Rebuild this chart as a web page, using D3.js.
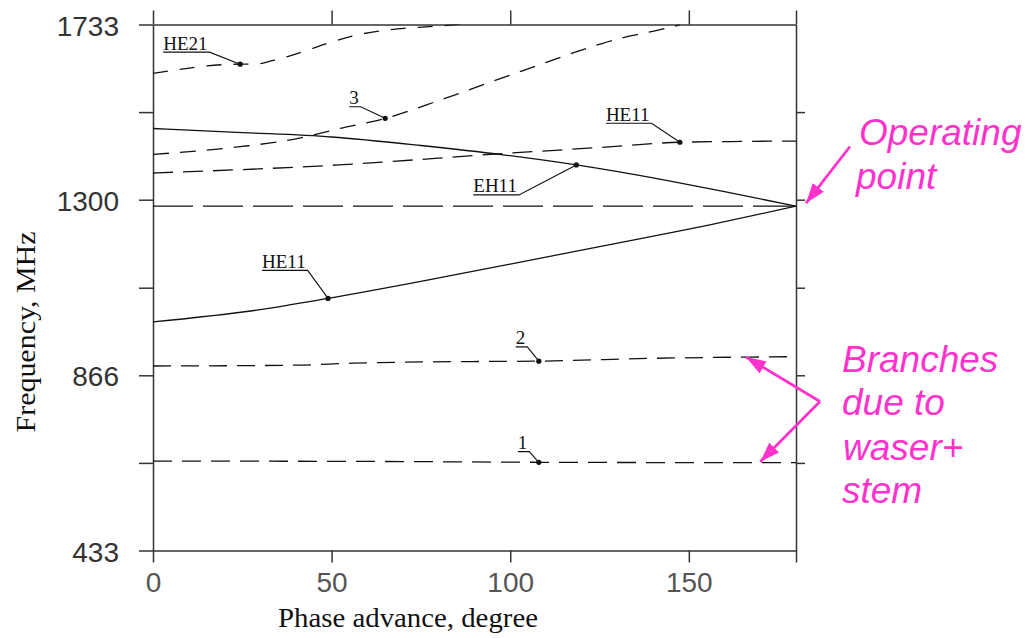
<!DOCTYPE html>
<html>
<head>
<meta charset="utf-8">
<script src="https://cdn.jsdelivr.net/npm/d3@7"></script>
<style>
	body { margin: 0; background: #fff; }
	svg { display: block; background: #fff; }
	.axis path, .axis line { stroke: #333; stroke-width: 1.5; }
	.axis text { font-family: "Liberation Sans", Arial, sans-serif; font-size: 28px; }
	.y-axis text { fill: #333; }
	.x-axis text { fill: #555; }
	.axis-title { font-family: "Liberation Serif", "Times New Roman", serif; font-size: 27px; fill: #111; }
	.mode-label { font-family: "Liberation Serif", "Times New Roman", serif; font-size: 19px; fill: #111; }
	.note { font-family: "Liberation Sans", Arial, sans-serif; font-style: italic; font-size: 37px; fill: #ff33cc; }
</style>
</head>
<body>
<svg id="chart"></svg>
<script>
// axis ticks
const yTicks = [433, 649.5, 866, 1082.5, 1300, 1516.5, 1733];
const yLabels = ["433", "", "866", "", "1300", "", "1733"];
const xTicks = [0, 50, 100, 150, 180];
const xLabels = ["0", "50", "100", "150", ""];

// dispersion branches: phase advance (deg) and frequency (MHz)
const he21Phase = [0, 24.4, 28.6, 34, 42, 49, 57, 65.5, 71, 81, 86];
const he21Freq = [1612, 1635, 1635, 1645, 1666, 1687, 1707, 1719, 1724, 1730, 1734];

const branch3Phase = [0, 24.4, 41, 52.3, 65, 80, 88, 94.3, 103.2, 110.3, 118, 125.7, 133.3, 141.4, 147.5];
const branch3Freq = [1412, 1431, 1452, 1476, 1501, 1545, 1570, 1590, 1618, 1640, 1664, 1686, 1704, 1719, 1732];

const eh11Phase = [0, 25, 50, 75, 98, 118.5, 143, 160, 180];
const eh11Freq = [1476, 1466, 1455, 1434, 1411, 1386, 1349, 1320, 1284];

const he11UpPhase = [0, 52, 98, 125, 147.5, 165, 180];
const he11UpFreq = [1366, 1386, 1414, 1429, 1442, 1444, 1445];

const opPhase = [0, 180];
const opFreq = [1284, 1284];

const he11LowPhase = [0, 29, 49, 75, 100, 125, 150, 180];
const he11LowFreq = [998, 1027, 1056, 1098, 1141, 1184, 1227, 1284];

const branch2Phase = [0, 40, 56, 89, 108, 140, 180];
const branch2Freq = [889, 891, 896, 900, 901, 908, 912];

const branch1Phase = [0, 65, 108, 180];
const branch1Freq = [654, 653, 651, 650];

// labelled points on the branches
const labelNames = ["HE21", "3", "HE11", "EH11", "HE11", "2", "1"];
const labelPhase = [24.4, 65, 147.5, 118.5, 49, 108, 108];
const labelFreq = [1635, 1501, 1442, 1386, 1056, 901, 651];

function makeDispersionPlot(svgElement) {
	const viewWidth = 1030
	const viewHeight = 638
	const margin = { top: 24.5, right: 234, bottom: 87.5, left: 153 };
	const width = viewWidth - margin.left - margin.right;
	const height = viewHeight - margin.top - margin.bottom;

	const root = d3.select(svgElement)
		.attr("width", viewWidth)
		.attr("height", viewHeight);

	const svg = root.append("g")
		.attr("transform", "translate(" + margin.left + "," + margin.top + ")");

	const x = d3.scaleLinear().domain([0, 180]).range([0, width]);
	const y = d3.scaleLinear().domain([433, 1733]).range([height, 0]);

	// frame: four axes, ticks pointing outwards
	svg.append("g")
		.attr("class", "axis y-axis")
		.call(d3.axisLeft(y).tickValues(yTicks).tickSize(14).tickSizeOuter(0).tickPadding(20)
			.tickFormat(function (d, i) { return yLabels[i] }))
		.selectAll("text").attr("dy", "0.38em");

	svg.append("g")
		.attr("class", "axis")
		.attr("transform", "translate(" + width + ",0)")
		.call(d3.axisRight(y).tickValues(yTicks.slice(1, -1)).tickSize(9).tickSizeOuter(0).tickFormat(""));

	svg.append("g")
		.attr("class", "axis x-axis")
		.attr("transform", "translate(0," + height + ")")
		.call(d3.axisBottom(x).tickValues(xTicks).tickSize(12).tickSizeOuter(0).tickPadding(10)
			.tickFormat(function (d, i) { return xLabels[i] }));

	svg.append("g")
		.attr("class", "axis")
		.call(d3.axisTop(x).tickValues(xTicks).tickSize(14).tickSizeOuter(0).tickFormat(""));

	// axis titles
	svg.append("text")
		.attr("class", "axis-title")
		.attr("transform", "rotate(-90)")
		.attr("x", -(332 - margin.top))
		.attr("y", 35 - margin.left)
		.attr("text-anchor", "middle")
		.attr("textLength", 201)
		.attr("lengthAdjust", "spacingAndGlyphs")
		.text("Frequency, MHz");

	svg.append("text")
		.attr("class", "axis-title")
		.attr("x", 408 - margin.left)
		.attr("y", height + 76)
		.attr("text-anchor", "middle")
		.attr("textLength", 260)
		.attr("lengthAdjust", "spacingAndGlyphs")
		.text("Phase advance, degree");

	// branches
	const branches = [
		{ phase: he21Phase, freq: he21Freq, dash: "15,12" },
		{ phase: branch3Phase, freq: branch3Freq, dash: "16,11" },
		{ phase: eh11Phase, freq: eh11Freq, dash: null },
		{ phase: he11UpPhase, freq: he11UpFreq, dash: "20,10" },
		{ phase: opPhase, freq: opFreq, dash: "40,10" },
		{ phase: he11LowPhase, freq: he11LowFreq, dash: null },
		{ phase: branch2Phase, freq: branch2Freq, dash: "18,10" },
		{ phase: branch1Phase, freq: branch1Freq, dash: "19,10" }
	];

	svg.append("defs").append("clipPath")
		.attr("id", "plot-clip")
		.append("rect")
		.attr("x", 0)
		.attr("y", 0)
		.attr("width", width)
		.attr("height", height);

	const line = d3.line()
		.x(function (d) { return x(d[0]); })
		.y(function (d) { return y(d[1]); })
		.curve(d3.curveMonotoneX);

	svg.append("g")
		.attr("clip-path", "url(#plot-clip)")
		.selectAll("path")
		.data(branches)
		.enter()
		.append("path")
		.attr("d", function (d) { return line(d.phase.map(function (p, i) { return [p, d.freq[i]]; })) })
		.attr("fill", "none")
		.attr("stroke", "#111")
		.attr("stroke-width", 1.3)
		.attr("stroke-dasharray", function (d) { return d.dash; });

	// labels: underlined name + leader line to a dot on the branch
	const labelOffsets = [[-77, -12], [-36, -11.6], [-74, -19], [-103, 30], [-66, -28], [-23, -14.3], [-21, -10.7]];

	labelNames.forEach(function (name, i) {
		const px = x(labelPhase[i]);
		const py = y(labelFreq[i]);
		const lx = px + labelOffsets[i][0];
		const ly = py + labelOffsets[i][1];

		const t = svg.append("text")
			.attr("class", "mode-label")
			.attr("x", lx)
			.attr("y", ly - 2.5)
			.text(name);
		const w = t.node().getComputedTextLength() + 2;

		svg.append("path")
			.attr("d", "M" + lx + "," + ly + "H" + (lx + w) + "L" + px + "," + py)
			.attr("fill", "none")
			.attr("stroke", "#111")
			.attr("stroke-width", 1.1);

		svg.append("circle")
			.attr("cx", px)
			.attr("cy", py)
			.attr("r", 2.6)
			.attr("fill", "#111");
	});

	// pink notes with arrows
	const pink = "#ff33cc";
	root.select("defs").append("marker")
		.attr("id", "arrow")
		.attr("viewBox", "0 0 20 14")
		.attr("refX", 20)
		.attr("refY", 7)
		.attr("markerWidth", 20)
		.attr("markerHeight", 14)
		.attr("markerUnits", "userSpaceOnUse")
		.attr("orient", "auto")
		.append("path")
		.attr("d", "M0,0L20,7L0,14Z")
		.attr("fill", pink);

	const arrows = [
		{ from: [697, 122], to: [x(180) + 10, y(1284) - 3] },
		{ from: [667, 377], to: [x(166), y(911)] },
		{ from: [667, 377], to: [x(170), y(650) - 1] }
	];

	svg.selectAll("line.note-arrow")
		.data(arrows)
		.enter()
		.append("line")
		.attr("class", "note-arrow")
		.attr("x1", function (d) { return d.from[0] })
		.attr("y1", function (d) { return d.from[1] })
		.attr("x2", function (d) { return d.to[0] })
		.attr("y2", function (d) { return d.to[1] })
		.attr("stroke", pink)
		.attr("stroke-width", 2.8)
		.attr("marker-end", "url(#arrow)");

	const notes = [
		{ x: 706, y: 120.5, text: "Operating" },
		{ x: 703, y: 164.5, text: "point" },
		{ x: 689, y: 347.5, text: "Branches" },
		{ x: 689, y: 390.5, text: "due to" },
		{ x: 690, y: 435.5, text: "waser+" },
		{ x: 689, y: 478.5, text: "stem" }
	];

	svg.selectAll("text.note")
		.data(notes)
		.enter()
		.append("text")
		.attr("class", "note")
		.attr("x", function (d) { return d.x })
		.attr("y", function (d) { return d.y })
		.text(function (d) { return d.text });
}

makeDispersionPlot(document.getElementById("chart"));
</script>
</body>
</html>
